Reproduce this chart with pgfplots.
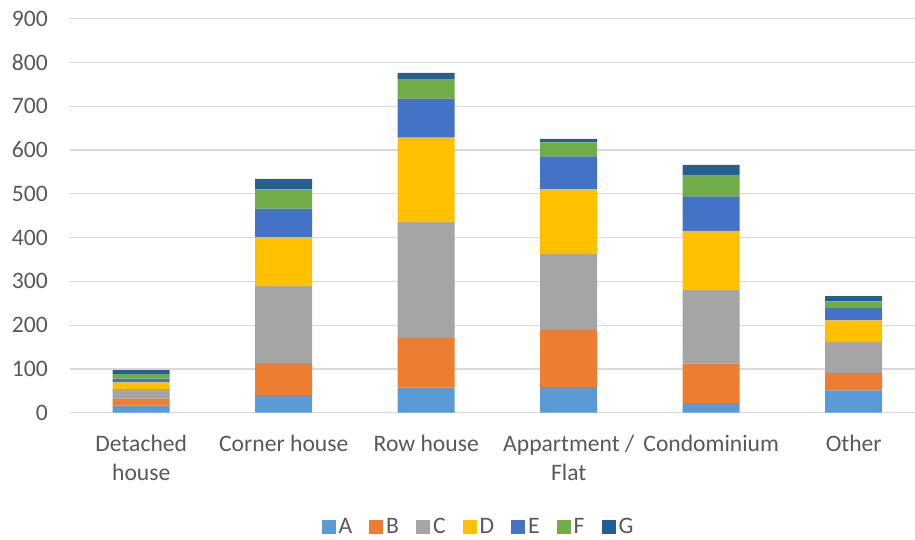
\documentclass[border=0pt]{standalone}
\usepackage{pgfplots}
\pgfplotsset{compat=1.18}
\usepackage{pgfplotstable}
\usepackage{fontspec}
\setmainfont{Carlito}

\definecolor{cA}{HTML}{5B9BD5}
\definecolor{cB}{HTML}{ED7D31}
\definecolor{cC}{HTML}{A5A5A5}
\definecolor{cD}{HTML}{FFC000}
\definecolor{cE}{HTML}{4472C4}
\definecolor{cF}{HTML}{70AD47}
\definecolor{cG}{HTML}{255E91}
\definecolor{txt}{HTML}{595959}
\definecolor{grd}{HTML}{D9D9D9}

% stacked counts per dwelling type
\pgfplotstableread{
x  A   B   C   D   E   F   G
0  16  16  22  15  9   10  9
1  40  73  177 111 65  44  24
2  58  113 265 192 89  45  14
3  59  130 173 148 75  32  8
4  22  90  169 134 79  49  23
5  51  40  72  48  28  15  12
}\housing

\begin{document}
\begin{tikzpicture}
\begin{axis}[
    at={(0,0)}, anchor=south west,
    scale only axis,
    width=845bp, height=394.2bp,
    ybar stacked,
    bar width=57bp,
    xmin=-0.5, xmax=5.43,
    ymin=0, ymax=900,
    ytick={0,100,...,900},
    xtick=data,
    xticklabels={{Detached\\house},{Corner house},{Row house},{Appartment /\\Flat},{Condominium},{Other}},
    major tick length=0pt,
    axis line style={draw=none},
    ymajorgrids,
    major grid style={draw=grd, line width=1.2bp},
    every tick label/.append style={font=\fontsize{23.6bp}{29.3bp}\selectfont, text=txt},
    /pgf/number format/assume math mode=true,
    yticklabel style={anchor=east, inner sep=0pt, xshift=-22bp},
    xticklabel style={align=center, anchor=north, inner sep=0pt, yshift=-22bp},
    legend columns=-1,
    legend style={at={(0.484,-0.2893)}, anchor=center, draw=none, fill=none,
        font=\fontsize{23.6bp}{28bp}\selectfont, text=txt,
        /tikz/every even column/.append style={column sep=14bp},
        nodes={inner xsep=3bp},
        inner sep=0pt},
    legend image code/.code={\fill[#1] (0bp,-7bp) rectangle (14bp,7bp);},
    clip=false,
]
\addplot[fill=cA, draw=none] table[x=x, y=A] {\housing};
\addplot[fill=cB, draw=none] table[x=x, y=B] {\housing};
\addplot[fill=cC, draw=none] table[x=x, y=C] {\housing};
\addplot[fill=cD, draw=none] table[x=x, y=D] {\housing};
\addplot[fill=cE, draw=none] table[x=x, y=E] {\housing};
\addplot[fill=cF, draw=none] table[x=x, y=F] {\housing};
\addplot[fill=cG, draw=none] table[x=x, y=G] {\housing};
\legend{A,B,C,D,E,F,G}
\end{axis}
\pgfresetboundingbox
\path[use as bounding box] (-70bp,-127.3bp) rectangle (845bp,412.7bp);
\end{tikzpicture}
\end{document}
